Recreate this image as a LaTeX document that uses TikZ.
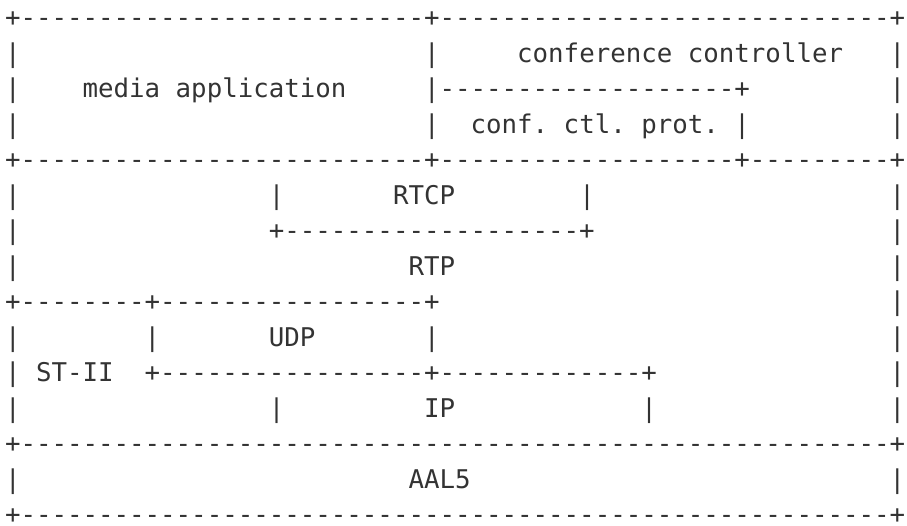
\documentclass[tikz,border=0pt]{standalone}
\usepackage{fontspec}
\setmonofont{DejaVu Sans Mono}
\definecolor{ink}{HTML}{333333}

\begin{document}
\begin{tikzpicture}[x=15.52pt, y=-35.5pt,
    every node/.style={font=\ttfamily\fontsize{25.78}{30}\selectfont, text=ink, inner sep=0pt, anchor=base west}]
    \useasboundingbox (0pt,0pt) rectangle (907pt,-525pt);
    \begin{scope}[shift={(0.31,0.755)}]
      % outer border bars
      \foreach \r in {1,2,3,5,6,7,9,10,11,13} \node (lbar\r) at (0,\r) {|};
      \foreach \r in {1,2,3,5,6,7,8,9,10,11,13} \node (rbar\r) at (57,\r) {|};

      % Application layer
      \node (topline) at (0,0) {+--------------------------+-----------------------------+};
      \node (appbar1) at (27,1) {|};
      \node (confctl) at (33,1) {conference controller};
      \node (mediaapp) at (5,2) {media application};
      \node (protline) at (27,2) {|-------------------+};
      \node (appbar3) at (27,3) {|};
      \node (confprot) at (30,3) {conf. ctl. prot.};
      \node (protbar) at (47,3) {|};
      \node (appline) at (0,4) {+--------------------------+-------------------+---------+};

      % RTP / RTCP
      \node (rtcpbarl) at (17,5) {|};
      \node (rtcp) at (25,5) {RTCP};
      \node (rtcpbarr) at (37,5) {|};
      \node (rtcpline) at (17,6) {+-------------------+};
      \node (rtp) at (26,7) {RTP};
      \node (rtpline) at (0,8) {+--------+-----------------+};

      % UDP / IP / ST-II
      \node (udpbarl) at (9,9) {|};
      \node (udp) at (17,9) {UDP};
      \node (udpbarr) at (27,9) {|};
      \node (stii) at (2,10) {ST-II};
      \node (udpline) at (9,10) {+-----------------+-------------+};
      \node (ipbarl) at (17,11) {|};
      \node (ip) at (27,11) {IP};
      \node (ipbarr) at (41,11) {|};
      \node (ipline) at (0,12) {+--------------------------------------------------------+};

      % AAL5
      \node (aal) at (26,13) {AAL5};
      \node (botline) at (0,14) {+--------------------------------------------------------+};
    \end{scope}
  \end{tikzpicture}
\end{document}
